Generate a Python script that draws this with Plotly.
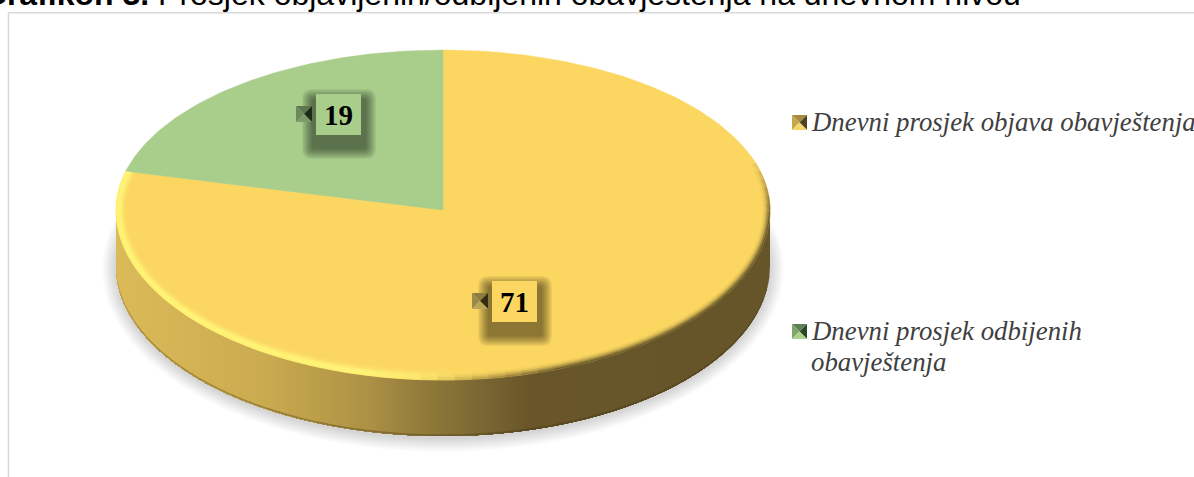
import math
import plotly.graph_objects as go

# ---------- data ----------
categories = ["Dnevni prosjek objava obavještenja", "Dnevni prosjek odbijenih obavještenja"]
legend_lines = [["Dnevni prosjek objava obavještenja"], ["Dnevni prosjek odbijenih", "obavještenja"]]
values = [71, 19]
title_bold = "Grafikon 3."
title_rest = "Prosjek objavljenih/odbijenih obavještenja na dnevnom nivou"

# ---------- layout constants ----------
W, H = 1194, 477
CX, CY, RX, RY_TOP, RY_BOT, DEPTH = 443, 210, 327, 160, 170, 56
YELLOW, GREEN = (251, 215, 98), (169, 206, 140)
DARK = (101, 85, 41)
HIGHLIGHT = (255, 244, 118)
SERIF = "Liberation Serif"
SANS = "Liberation Sans"


def rgb(c):
    return "rgb(%d,%d,%d)" % tuple(round(v) for v in c)


def mix(a, b, t):
    return tuple(x + (y - x) * t for x, y in zip(a, b))


def clamp(v):
    return max(0.0, min(1.0, v))


def pt(theta, d=0.0, dy=0.0):
    r = math.radians(theta)
    c = math.cos(r)
    ry = RY_TOP if c > 0 else RY_BOT
    return CX + (RX - d) * math.sin(r), CY + dy - (ry - d) * c


def poly(points):
    return "M" + "L".join("%.2f,%.2f" % p for p in points) + "Z"


def fr(points, fill, stroke=False, opacity=1.0, layer="below"):
    return dict(type="path", xref="x", yref="y", path=poly(points), fillcolor=fill, opacity=opacity, layer=layer,
                line=dict(color=fill, width=0.6) if stroke else dict(width=0))


def side_color(x):
    stops = [(116, (219, 186, 88)), (266, (203, 171, 80)), (366, (174, 146, 69)), (433, (141, 120, 58)),
             (533, (104, 86, 42)), (770, DARK)]
    for (x0, c0), (x1, c1) in zip(stops, stops[1:]):
        if x <= x1:
            return mix(c0, c1, clamp((x - x0) / (x1 - x0)))
    return DARK


total = sum(values)
sweep = [v / total * 360 for v in values]
yellow_end = sweep[0]
shapes = []

# soft ground shadow
for e in range(14, 0, -1):
    pts = [pt(t, -e, DEPTH + 2) for t in range(0, 360, 3)]
    shapes.append(fr(pts, "rgb(0,0,0)", opacity=0.012))

# extruded side: painted right to left, each strip overlapping everything further left
x_step = 3
sx = RX
while sx >= -RX:
    theta = 180 - math.degrees(math.asin(clamp(abs(sx) / RX))) if sx >= 0 else 180 + math.degrees(math.asin(clamp(abs(sx) / RX)))
    arc_t = [theta + i * (270 - theta) / 40 for i in range(41)]
    a = [pt(v) for v in arc_t]
    b = [pt(v, dy=DEPTH) for v in arc_t]
    shapes.append(fr(a + b[::-1], rgb(side_color(CX + sx))))
    sx -= x_step
# darker lower edge of the side
t = 90.0
while t < 270:
    ang = [t, t + 1, t + 2.2]
    c = side_color(pt(t + 1)[0])
    shapes.append(fr([pt(v, dy=DEPTH - 1.6) for v in ang] + [pt(v, dy=DEPTH) for v in ang[::-1]],
                     rgb(mix(c, (60, 48, 20), 0.35))))
    t += 2

# top faces: driven by the values
fig = go.Figure()
start = 0.0
face_colors = [YELLOW, GREEN]
for name, sw, col in zip(categories, sweep, face_colors):
    n = max(2, int(sw))
    arc = [pt(start + sw * i / n) for i in range(n + 1)]
    fig.add_trace(go.Scatter(
        x=[CX] + [p[0] for p in arc] + [CX], y=[CY] + [p[1] for p in arc] + [CY],
        mode="lines", fill="toself", fillcolor=rgb(col), line=dict(color=rgb(col), width=0.5),
        name=name, showlegend=False, hoverinfo="name"))
    start += sw

# bevelled rim of the big slice
RINGS = [(0.0, 1.6, 0.9, 0.95), (1.6, 3.2, 1.0, 0.68), (3.2, 4.8, 1.0, 0.38), (4.8, 6.4, 0.8, 0.16),
         (6.4, 8.0, 0.45, 0.05), (8.0, 9.6, 0.15, 0.0)]
SEG = 3.0
t = 70.0
while t < yellow_end:
    t1 = min(t + SEG, yellow_end)
    xm = pt((t + t1) / 2)[0]
    h = clamp((490 - xm) / 130)
    k = clamp((xm - 420) / 140) * clamp((t - 70) / 22)
    for d0, d1, p, q in RINGS:
        c = mix(YELLOW, HIGHLIGHT, h * p)
        c = mix(c, DARK, k * q)
        ang = [t, (t + t1) / 2, t1]
        shapes.append(fr([pt(a, d0) for a in ang] + [pt(a, d1) for a in ang[::-1]], rgb(c), stroke=True, layer="above"))
    t = t1


# data label call-outs
def rounded(x0, y0, x1, y1, r):
    return (f"M{x0+r},{y0}L{x1-r},{y0}Q{x1},{y0} {x1},{y0+r}L{x1},{y1-r}Q{x1},{y1} {x1-r},{y1}"
            f"L{x0+r},{y1}Q{x0},{y1} {x0},{y1-r}L{x0},{y0+r}Q{x0},{y0} {x0+r},{y0}Z")


def pyramid(x0, y0, s, top, left, right, bottom):
    cx, cy = x0 + s / 2, y0 + s / 2
    x1, y1 = x0 + s, y0 + s
    out = []
    for pts, col in (([(x0, y0), (x1, y0), (cx, cy)], top), ([(x0, y0), (x0, y1), (cx, cy)], left),
                     ([(x1, y0), (x1, y1), (cx, cy)], right), ([(x0, y1), (x1, y1), (cx, cy)], bottom)):
        out.append(fr(pts, rgb(col), layer="above"))
    return out


boxes = [(492, 281, values[0], YELLOW), (316, 94, values[1], GREEN)]
label_keys = [((140, 124, 62), (155, 138, 78), (50, 44, 18), (186, 165, 88)),
              ((92, 118, 80), (108, 136, 92), (28, 44, 26), (125, 155, 105))]
annotations = []
for (bx, by, val, col), key in zip(boxes, label_keys):
    layers = 10
    for i in range(layers):
        inset = i * 1.1
        shapes.append(dict(type="path", xref="x", yref="y", layer="above", fillcolor="rgb(0,0,0)", opacity=0.053,
                           line=dict(width=0),
                           path=rounded(bx - 14 + inset, by - 5 + inset, bx + 45 + 15 - inset, by + 41 + 24 - inset,
                                        max(1, 10 - inset * 0.7))))
    shapes += pyramid(bx - 20, by + 12, 16, *key)
    annotations.append(dict(x=bx + 22.5, y=by + 20.5, xref="x", yref="y", text="<b>%d</b>" % val, showarrow=False,
                            width=45, height=41, borderpad=0, borderwidth=0, bgcolor=rgb(col),
                            align="center", valign="middle",
                            font=dict(family=SERIF, size=29, color="#000000")))

# legend (manual, to keep the bevelled keys)
legend_keys = [((168, 139, 62), (196, 166, 78), (78, 68, 32), (245, 212, 105)),
               ((92, 128, 84), (128, 165, 105), (45, 70, 40), (172, 210, 142))]
legend_key_pos = [(792, 115), (792, 324)]
legend_text_x = 809
legend_text_y = [[122], [331, 362]]
for lines, key, (kx, ky), ys in zip(legend_lines, legend_keys, legend_key_pos, legend_text_y):
    shapes += pyramid(kx, ky, 15, *key)
    for line, ty in zip(lines, ys):
        annotations.append(dict(x=legend_text_x, y=ty, xref="x", yref="y", text="<i>%s</i>" % line, showarrow=False,
                                xanchor="left", yanchor="middle", align="left",
                                font=dict(family=SERIF, size=26.8, color="#404040")))

# title, clipped by the top and left of the page as in the reference
annotations.append(dict(x=1023 / W, y=1 + 6 / H, xref="paper", yref="paper", xanchor="right", yanchor="middle",
                        showarrow=False, text="<b>%s</b> %s" % (title_bold, title_rest),
                        font=dict(family=SANS, size=32, color="#000000")))

# chart frame
for x0, y0, x1, y1 in ((8.5, 12.7, 8.5, H), (8.5, 12.7, W, 12.7)):
    shapes.append(dict(type="line", xref="x", yref="y", x0=x0, y0=y0, x1=x1, y1=y1, layer="below",
                       line=dict(color="#d9d9d9", width=1.5)))

fig.update_layout(
    width=W, height=H, autosize=False, margin=dict(l=0, r=0, t=0, b=0), paper_bgcolor="#ffffff",
    plot_bgcolor="#ffffff", showlegend=False, shapes=shapes, annotations=annotations,
    xaxis=dict(range=[0, W], visible=False, fixedrange=True),
    yaxis=dict(range=[H, 0], visible=False, fixedrange=True),
)
fig.write_html("out.html", config=dict(displayModeBar=False),
               post_script="document.body.style.margin='0';document.body.style.overflow='hidden';")
